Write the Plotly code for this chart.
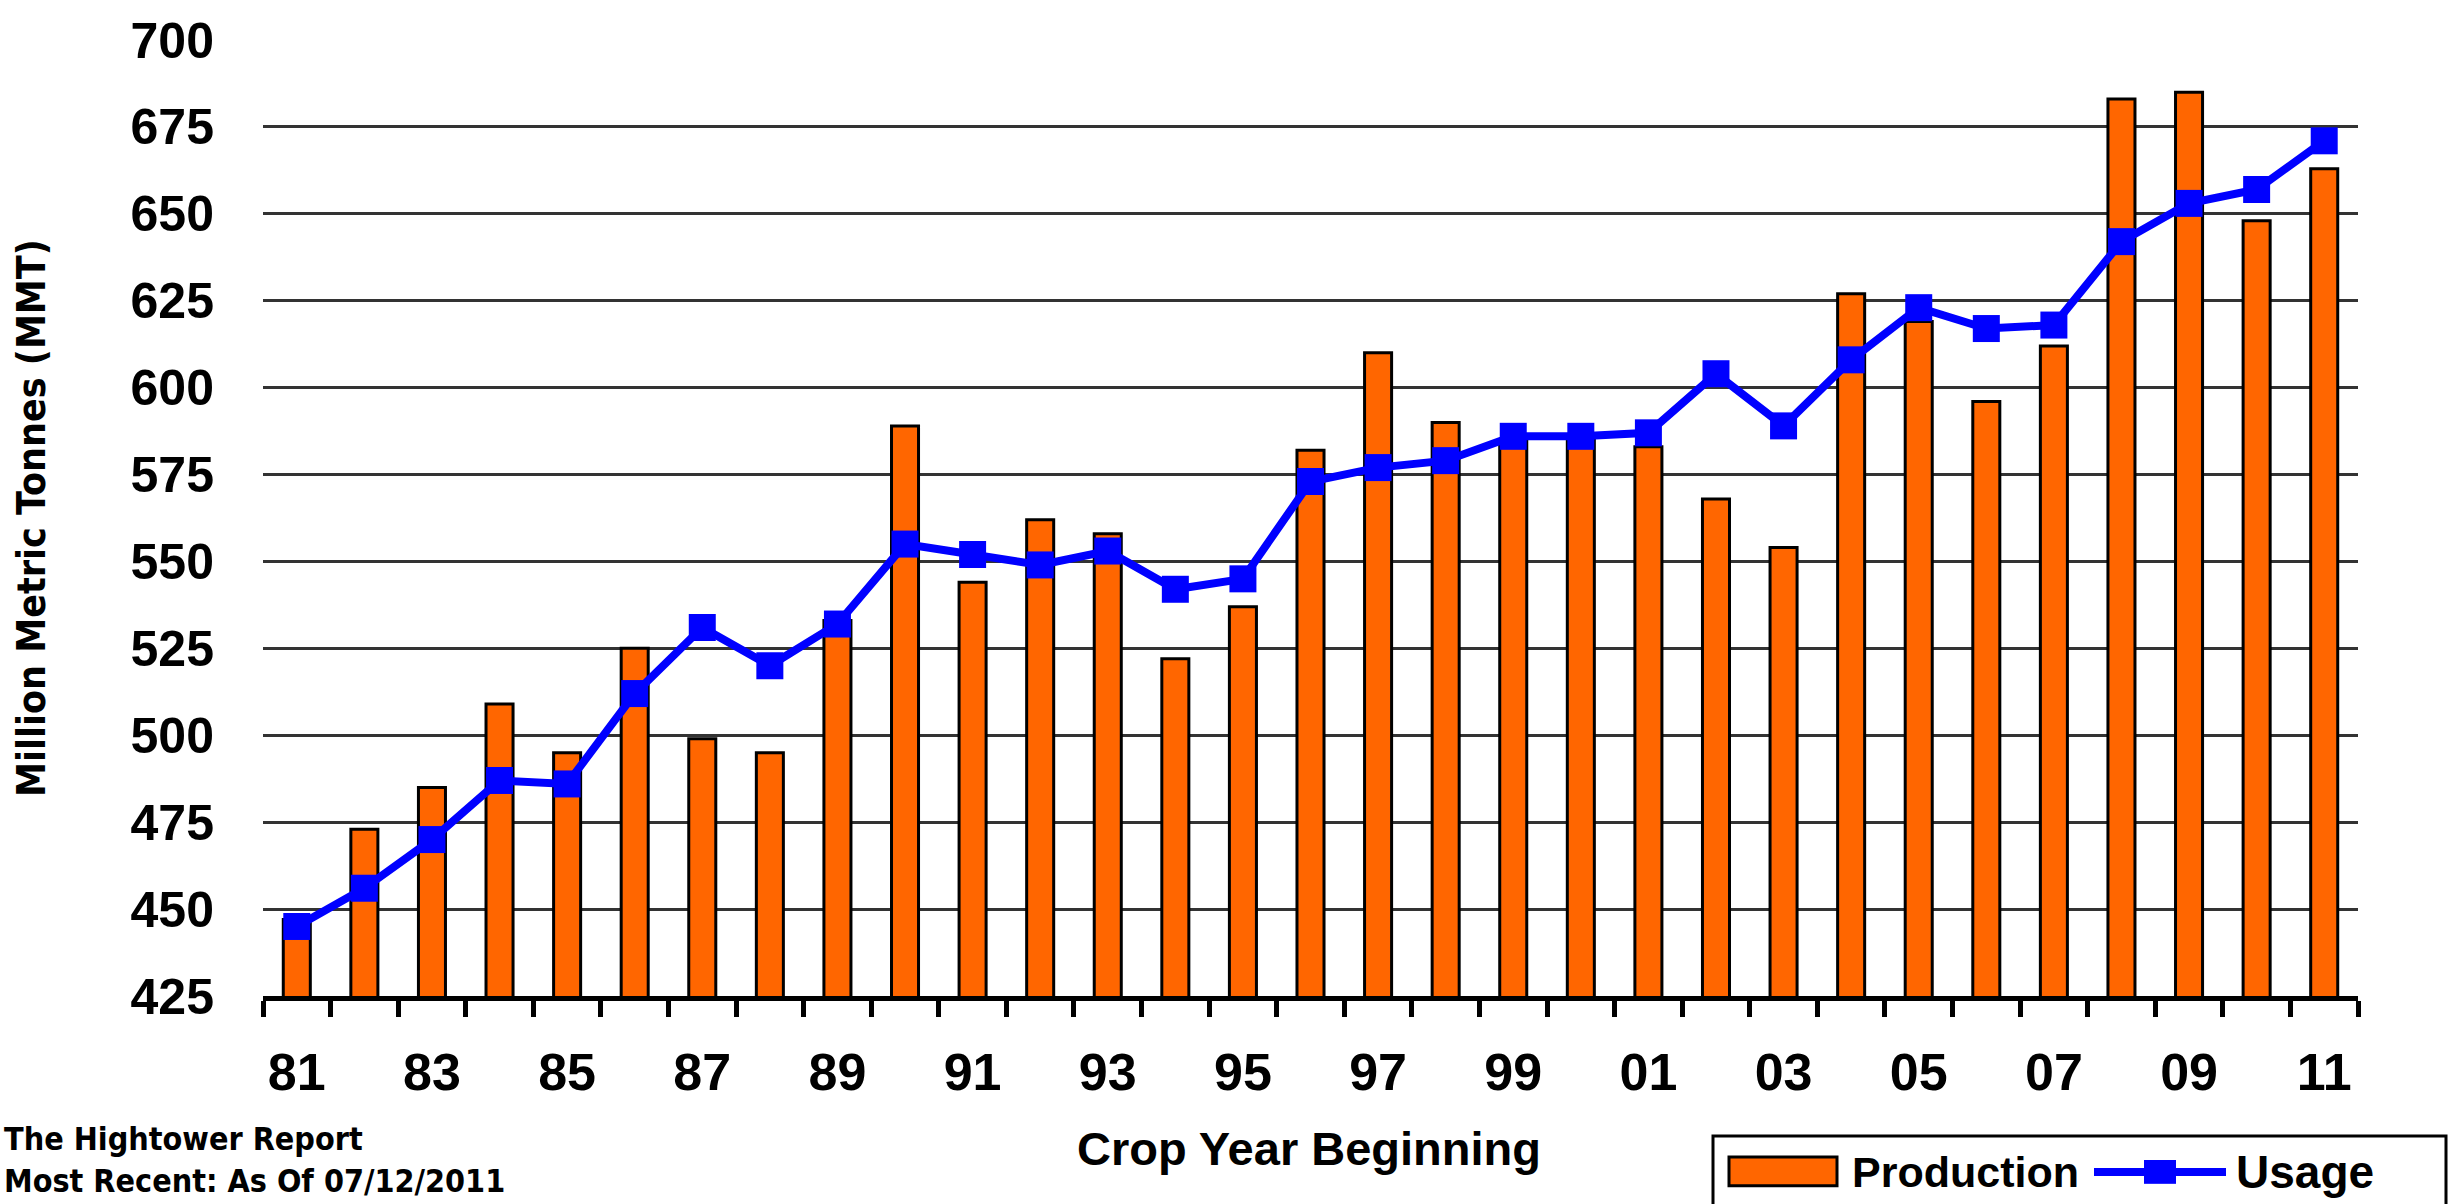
import plotly.graph_objects as go

# ---- data ----
years = list(range(1981, 2012))
tick_years = years[::2]
tick_labels = [f"{y % 100:02d}" for y in tick_years]
production = [447, 473, 485, 509, 495, 525, 499, 495, 533, 589, 544, 562, 558, 522, 537,
              582, 610, 590, 585, 585, 583, 568, 554, 627, 619, 596, 612, 683, 685, 648, 663]
usage = [445, 456, 470, 487, 486, 512, 531, 520, 532, 555, 552, 549, 553, 542, 545,
         573, 577, 579, 586, 586, 587, 604, 589, 608, 623, 617, 618, 642, 653, 657, 671]
y_ticks = list(range(425, 701, 25))
source_lines = ["The Hightower Report", "Most Recent: As Of 07/12/2011"]

ORANGE = "#FF6600"
BLUE = "#0000FF"
FONT = "Liberation Sans, Arial, sans-serif"
NARROW = "Liberation Sans Narrow, Arial Narrow, DejaVu Sans Condensed, sans-serif"

fig = go.Figure()
fig.add_trace(go.Bar(
    x=years, y=production, name="Production", width=0.4,
    marker=dict(color=ORANGE, line=dict(color="black", width=3)),
))
fig.add_trace(go.Scatter(
    x=years, y=usage, name="Usage", mode="lines+markers",
    line=dict(color=BLUE, width=8),
    marker=dict(symbol="square", size=27, color=BLUE),
))

W, H = 2458, 1204
L, R, T, B = 263, 100, 34, 208
pw, ph = W - L - R, H - T - B

def px(xp):
    return (xp - L) / pw

def py(yp):
    return (H - B - yp) / ph

fig.update_layout(
    width=W, height=H, autosize=False,
    margin=dict(l=L, r=R, t=T, b=B, pad=0),
    paper_bgcolor="white", plot_bgcolor="white",
    showlegend=False,
    font=dict(family=FONT, color="black"),
    xaxis=dict(
        type="linear", range=[1980.5, 2011.5],
        tickmode="array", tickvals=tick_years, ticktext=tick_labels,
        ticks="", showgrid=False, zeroline=False,
        showline=True, linecolor="black", linewidth=5,
        tickfont=dict(family=FONT, size=52, weight="bold"),
        ticklabelstandoff=27,
        minor=dict(ticks="outside", tickmode="linear", tick0=1980.5, dtick=1,
                   ticklen=16, tickwidth=5, tickcolor="black", showgrid=False),
    ),
    yaxis=dict(
        range=[425, 700], tickmode="array", tickvals=y_ticks,
        showgrid=True, gridcolor="#333333", gridwidth=3,
        zeroline=False, showline=False, ticks="",
        tickfont=dict(family=FONT, size=50, weight="bold"),
        ticklabelstandoff=48,
    ),
)

# y-axis title
fig.add_annotation(
    text="Million Metric Tonnes (MMT)", xref="paper", yref="paper",
    x=px(31), y=0.5, xanchor="center", yanchor="middle", textangle=-90,
    showarrow=False, font=dict(family=NARROW, size=39, weight="bold"),
)
# x-axis title
fig.add_annotation(
    text="Crop Year Beginning", xref="paper", yref="paper",
    x=px(1309), y=py(1149), xanchor="center", yanchor="middle",
    showarrow=False, font=dict(family=FONT, size=47, weight="bold"),
)
# source note (two lines)
for line_text, yc in zip(source_lines, [1140, 1182]):
    fig.add_annotation(
        text=line_text, xref="paper", yref="paper", x=px(2), y=py(yc),
        xanchor="left", yanchor="middle", align="left", showarrow=False,
        font=dict(family=NARROW, size=32, weight="bold"),
    )

# custom legend
fig.add_shape(type="rect", xref="paper", yref="paper",
              x0=px(1713), x1=px(2446), y0=py(1215), y1=py(1137),
              line=dict(color="black", width=3), fillcolor="white", layer="above")
fig.add_shape(type="rect", xref="paper", yref="paper",
              x0=px(1729), x1=px(1837), y0=py(1187), y1=py(1158),
              line=dict(color="black", width=3), fillcolor=ORANGE, layer="above")
fig.add_annotation(text="Production", xref="paper", yref="paper",
                   x=px(1850), y=py(1173), xanchor="left", yanchor="middle",
                   showarrow=False, font=dict(family=FONT, size=43, weight="bold"))
fig.add_shape(type="line", xref="paper", yref="paper",
              x0=px(2094), x1=px(2226), y0=py(1173), y1=py(1173),
              line=dict(color=BLUE, width=8), layer="above")
fig.add_shape(type="rect", xref="paper", yref="paper",
              x0=px(2144), x1=px(2176), y0=py(1185), y1=py(1161),
              line=dict(color=BLUE, width=0), fillcolor=BLUE, layer="above")
fig.add_annotation(text="Usage", xref="paper", yref="paper",
                   x=px(2234), y=py(1173), xanchor="left", yanchor="middle",
                   showarrow=False, font=dict(family=FONT, size=46, weight="bold"))

fig.write_html("out.html", config={"displayModeBar": False},
               post_script="document.body.style.margin='0';")
